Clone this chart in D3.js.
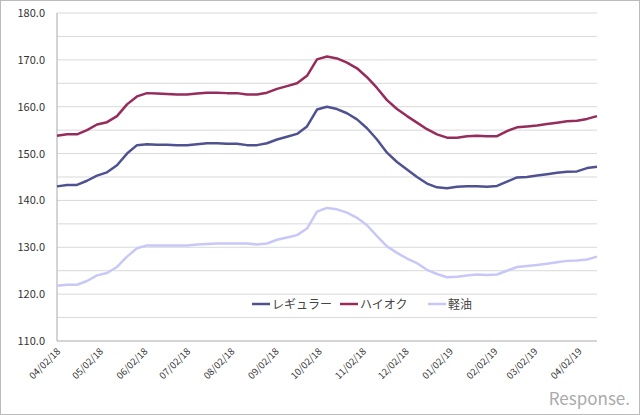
<!DOCTYPE html>
<html><head><meta charset="utf-8">
<script src="https://cdn.jsdelivr.net/npm/d3@7"></script>
<style>body{margin:0;background:#fff}text{font-family:"Noto Sans CJK JP","DejaVu Sans",sans-serif}</style>
</head><body><svg id="c" width="640" height="415"></svg>
<script>
const startDate = "2018-04-02";
const regular = [143,143.3,143.3,144.2,145.3,146,147.5,150,151.8,152,151.9,151.9,151.8,151.8,152,152.2,152.2,152.1,152.1,151.8,151.8,152.2,153,153.6,154.2,155.8,159.4,160,159.5,158.6,157.3,155.4,153,150.2,148.2,146.6,145,143.6,142.8,142.6,142.9,143,143,142.9,143.1,144,144.9,145,145.3,145.6,145.9,146.1,146.2,146.9,147.2];
const highOctane = [153.8,154.1,154.1,155,156.2,156.7,158,160.5,162.2,162.9,162.8,162.7,162.6,162.6,162.8,163,163,162.9,162.9,162.6,162.6,163,163.8,164.4,165,166.6,170.1,170.7,170.3,169.4,168.2,166.3,164,161.4,159.5,158,156.6,155.2,154.1,153.4,153.4,153.7,153.8,153.7,153.7,154.8,155.6,155.8,156,156.3,156.6,156.9,157,157.4,158];
const diesel = [121.8,122,122,122.8,124,124.5,125.8,128,129.8,130.4,130.4,130.4,130.4,130.4,130.6,130.7,130.8,130.8,130.8,130.8,130.6,130.8,131.6,132.1,132.6,134,137.6,138.4,138.1,137.4,136.3,134.7,132.4,130.2,128.8,127.6,126.6,125.2,124.3,123.6,123.7,124,124.2,124.1,124.2,125,125.8,126,126.2,126.5,126.8,127.1,127.2,127.4,128];
const seriesNames = ["レギュラー","ハイオク","軽油"];
const colors = ["#4f5291","#962c5c","#c8c8f8"];
const yTicks = [110,120,130,140,150,160,170,180];
const monthTicks = ["2018-04-02","2018-05-02","2018-06-02","2018-07-02","2018-08-02","2018-09-02","2018-10-02","2018-11-02","2018-12-02","2019-01-02","2019-02-02","2019-03-02","2019-04-02"];

const svg = d3.select("#c");
svg.append("rect").attr("x",0.5).attr("y",0.5).attr("width",639).attr("height",414).attr("fill","#fff").attr("stroke","#bbb");
const parse = d3.utcParse("%Y-%m-%d");
const s0 = parse(startDate);
const dates = regular.map((_,i)=>d3.utcDay.offset(s0,i*7));
const x = d3.scaleUtc().domain([dates[0],dates[dates.length-1]]).range([57,597]);
const y = d3.scaleLinear().domain([110,180]).range([341,13]);

// gridlines every 5
svg.append("g").selectAll("line").data(d3.range(115,181,5)).join("line")
  .attr("x1",57).attr("x2",597).attr("y1",d=>y(d)).attr("y2",d=>y(d)).attr("stroke","#d9d9d9");
svg.append("line").attr("x1",57).attr("x2",597).attr("y1",y(110)).attr("y2",y(110)).attr("stroke","#aaa");
svg.append("line").attr("x1",57).attr("x2",57).attr("y1",y(110)).attr("y2",y(180)).attr("stroke","#aaa");

svg.append("g").selectAll("text").data(yTicks).join("text")
  .attr("x",45).attr("y",d=>y(d)+4).attr("text-anchor","end").attr("font-size",11).attr("fill","#333")
  .text(d=>d.toFixed(1));

const fmt = d3.utcFormat("%m/%d/%y");
svg.append("g").selectAll("text").data(monthTicks.map(parse)).join("text")
  .attr("transform",d=>`translate(${x(d)+4},${352}) rotate(-45)`).attr("text-anchor","end")
  .attr("font-size",9.5).attr("fill","#333").text(d=>fmt(d));

const line = d3.line().x((d,i)=>x(dates[i])).y(d=>y(d));
[regular,highOctane,diesel].forEach((s,k)=>{
  svg.append("path").attr("d",line(s)).attr("fill","none").attr("stroke",colors[k]).attr("stroke-width",2.5).attr("stroke-linejoin","round");
});

const lx=[252,340,428];
seriesNames.forEach((n,k)=>{
  svg.append("line").attr("x1",lx[k]).attr("x2",lx[k]+18).attr("y1",304).attr("y2",304).attr("stroke",colors[k]).attr("stroke-width",2.5);
  svg.append("text").attr("x",lx[k]+20).attr("y",308.5).attr("font-size",12).attr("fill","#444").text(n);
});

svg.append("text").attr("x",630).attr("y",405).attr("text-anchor","end").attr("font-size",17).attr("fill","#aaa")
  .attr("font-family","Arial, sans-serif").text("Response.");
</script></body></html>
